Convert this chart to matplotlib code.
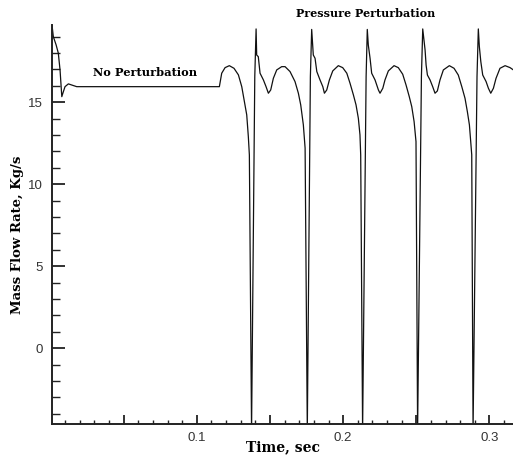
import matplotlib
matplotlib.use("Agg")
import matplotlib.pyplot as plt
from matplotlib.ticker import MultipleLocator, FuncFormatter

# time (s) and mass flow rate (kg/s)
time = [
    0.0010, 0.0019, 0.0038, 0.0053, 0.0065, 0.0077, 0.0085, 0.0099, 0.0122, 0.0145, 0.0179,
    0.1154, 0.1170, 0.1193, 0.1222, 0.1254, 0.1284, 0.1307, 0.1325, 0.1341, 0.1352, 0.1359,
    0.1374, 0.1396, 0.1405,
    0.1409, 0.1420, 0.1432, 0.1455, 0.1473, 0.1489, 0.1505, 0.1523, 0.1546, 0.1580, 0.1603,
    0.1637, 0.1671, 0.1694, 0.1710, 0.1728, 0.1740, 0.1755, 0.1776, 0.1785,
    0.1796, 0.1808, 0.1820, 0.1842, 0.1861, 0.1872, 0.1888, 0.1906, 0.1929, 0.1967, 0.1997,
    0.2025, 0.2047, 0.2070, 0.2088, 0.2104, 0.2115, 0.2120, 0.2133, 0.2157, 0.2165,
    0.2172, 0.2184, 0.2195, 0.2218, 0.2241, 0.2252, 0.2271, 0.2286, 0.2309, 0.2348, 0.2377,
    0.2407, 0.2430, 0.2452, 0.2469, 0.2485, 0.2498, 0.2509, 0.2535, 0.2544,
    0.2560, 0.2567, 0.2576, 0.2594, 0.2612, 0.2628, 0.2644, 0.2662, 0.2685, 0.2726, 0.2758,
    0.2787, 0.2811, 0.2833, 0.2849, 0.2863, 0.2872, 0.2879, 0.2888, 0.2915, 0.2924,
    0.2931, 0.2941, 0.2954, 0.2977, 0.2993, 0.3009, 0.3027, 0.3045, 0.3072, 0.3107, 0.3141,
    0.3175,
]
flow = [
    19.71, 19.00, 18.50, 18.00, 16.97, 15.34, 15.57, 15.95, 16.12, 16.05, 15.95,
    15.95, 16.77, 17.11, 17.23, 17.07, 16.67, 15.95, 15.04, 14.23, 12.90, 11.79,
    -5.00, 16.56, 19.47,
    17.88, 17.78, 16.77, 16.36, 15.95, 15.55, 15.75, 16.46, 16.97, 17.17, 17.17,
    16.87, 16.26, 15.55, 14.84, 13.62, 12.20, -5.00, 16.56, 19.44,
    17.88, 17.68, 16.87, 16.36, 15.95, 15.55, 15.75, 16.36, 16.91, 17.23, 17.11,
    16.77, 16.16, 15.45, 14.84, 14.02, 13.01, 11.79, -5.00, 16.56, 19.44,
    18.49, 17.68, 16.77, 16.36, 15.75, 15.55, 15.85, 16.36, 16.91, 17.23, 17.11,
    16.71, 16.05, 15.34, 14.73, 13.82, 12.60, -5.00, 16.56, 19.47,
    18.19, 17.27, 16.66, 16.36, 15.95, 15.55, 15.69, 16.36, 16.97, 17.23, 17.07,
    16.66, 15.95, 15.24, 14.43, 13.62, 12.60, 11.79, -5.00, 16.56, 19.47,
    18.39, 17.48, 16.66, 16.26, 15.85, 15.55, 15.85, 16.46, 17.07, 17.23, 17.11,
    16.90,
]

y_ticks = [0, 5, 10, 15]
x_labels = [0.1, 0.2, 0.3]

serif = "DejaVu Serif"
fig = plt.figure(figsize=(5.13, 4.55), dpi=100)
ax = fig.add_axes([52 / 513, 31 / 455, 461 / 513, 399 / 455])

ax.plot(time, flow, color="#111111", lw=0.9)
ax.set_xlim(0.001, 0.3161)
ax.set_ylim(-4.62, 19.71)

for s in ("top", "right"):
    ax.spines[s].set_visible(False)
for s in ("left", "bottom"):
    ax.spines[s].set_linewidth(1.4)
    ax.spines[s].set_color("#222222")

ax.set_yticks(y_ticks)
ax.yaxis.set_minor_locator(MultipleLocator(1))
ax.xaxis.set_major_locator(MultipleLocator(0.05))
ax.xaxis.set_minor_locator(MultipleLocator(0.01))
ax.xaxis.set_major_formatter(FuncFormatter(
    lambda v, p: f"{v:.1f}" if any(abs(v - l) < 1e-6 for l in x_labels) else ""))

ax.tick_params(axis="y", which="major", direction="in", length=9, width=1.3, pad=6.5,
               labelsize=9.5, labelcolor="#333333", color="#222222")
ax.tick_params(axis="y", which="minor", direction="in", length=5.5, width=1.0, color="#222222")
ax.tick_params(axis="x", which="major", direction="in", length=6.5, width=1.3, pad=5.5,
               labelsize=9.5, labelcolor="#333333", color="#222222")
ax.tick_params(axis="x", which="minor", direction="in", length=3, width=1.0, color="#222222")
for lab in ax.get_xticklabels() + ax.get_yticklabels():
    lab.set_family("Liberation Sans")

ax.set_xlabel("Time, sec", family=serif, weight="bold", fontsize=10, va="center")
ax.xaxis.set_label_coords(0.5, -0.058)
ax.set_ylabel("Mass Flow Rate, Kg/s", family=serif, weight="bold", fontsize=9.5,
              va="center", ha="center")
ax.yaxis.set_label_coords(-0.075, 0.474)

ax.text(0.0644, 16.8, "No Perturbation", family=serif, weight="bold", fontsize=8.2,
        ha="center", va="center")
ax.text(0.2157, 20.4, "Pressure Perturbation", family=serif, weight="bold", fontsize=8,
        ha="center", va="center", clip_on=False)

fig.savefig("out.png", dpi=100)
